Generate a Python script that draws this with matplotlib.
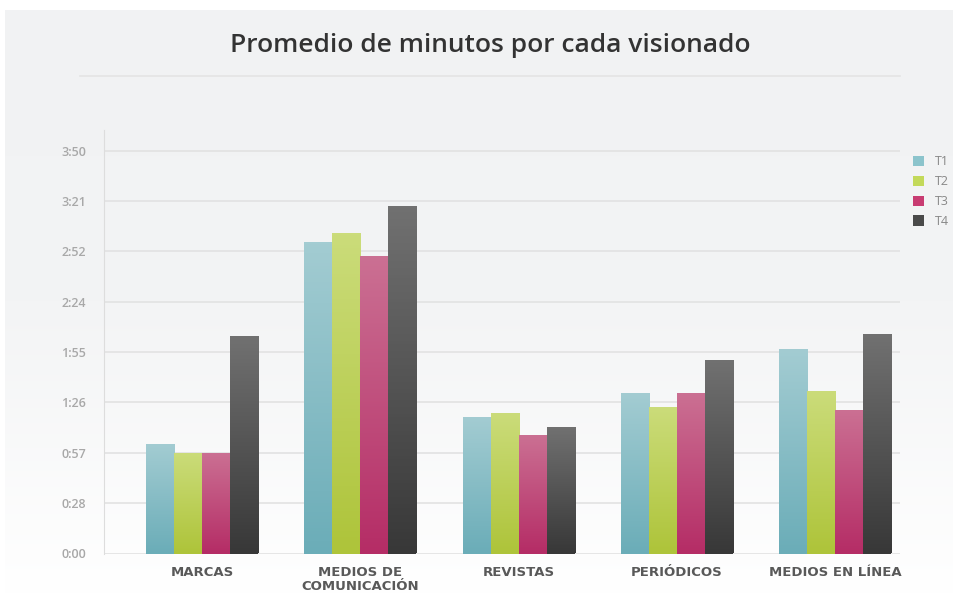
import numpy as np
import matplotlib
matplotlib.use("Agg")
import matplotlib.pyplot as plt
from matplotlib.colors import LinearSegmentedColormap
from matplotlib.patches import Patch

categories = ["MARCAS", "MEDIOS DE\nCOMUNICACIÓN", "REVISTAS", "PERIÓDICOS", "MEDIOS EN LÍNEA"]
series_names = ["T1", "T2", "T3", "T4"]
# values in seconds
t1 = [62.5, 178, 78, 91.5, 116.5]
t2 = [57.5, 183, 80.5, 83.5, 92.5]
t3 = [57.5, 170, 67.5, 91.5, 82]
t4 = [124, 198.5, 72.5, 110.5, 125.5]
tick_values = [0, 28.75, 57.5, 86.25, 115, 143.75, 172.5, 201.25, 230]
tick_labels = ["0:00", "0:28", "0:57", "1:26", "1:55", "2:24", "2:52", "3:21", "3:50"]
title = "Promedio de minutos por cada visionado"

series = [t1, t2, t3, t4]
top_colors = ["#a3ccd2", "#cbdc7a", "#cb7093", "#717171"]
bot_colors = ["#6badb8", "#aec43a", "#b52d66", "#383838"]
legend_colors = ["#8cc4cc", "#c3d95a", "#c83c72", "#4a4a4a"]

fig = plt.figure(figsize=(9.54, 5.94), dpi=100)
fig.patch.set_facecolor("white")

# background panel with vertical gradient
bg = fig.add_axes([5/954, 0, 1 - 5/954, 1 - 10/594], zorder=-10)
grad = np.linspace(0, 1, 256).reshape(-1, 1)
bg_cmap = LinearSegmentedColormap.from_list("bg", ["#f1f2f3", "#f3f4f5", "#ffffff"])
bg.imshow(grad, aspect="auto", cmap=bg_cmap, extent=[0, 1, 0, 1], origin="upper")
bg.set_axis_off()

# title and separator
fig.text(490/954, 1 - 45/594, title, ha="center", va="center", fontsize=19,
         family="Open Sans", fontweight="semibold", color="#333333")
fig.add_artist(plt.Line2D([80/954, 900/954], [1 - 76/594, 1 - 76/594],
                          color="#e4e4e4", lw=1.2, transform=fig.transFigure))

y0, ytop = 553.5, 130
ax = fig.add_axes([104/954, 1 - y0/594, (900 - 104)/954, (y0 - ytop)/594])
ax.set_facecolor("none")
x = np.arange(len(categories))
w = 28/158
offsets = (np.arange(4) - 1.5) * w

for i, (vals, c1, c2) in enumerate(zip(series, top_colors, bot_colors)):
    bars = ax.bar(x + offsets[i], vals, width=w, color=c2, zorder=3, linewidth=0)
    cmap = LinearSegmentedColormap.from_list(f"g{i}", [c2, c1])
    for b in bars:
        bx, by = b.get_x(), b.get_y()
        bw, bh = b.get_width(), b.get_height()
        im = ax.imshow(np.linspace(0, 1, 100).reshape(-1, 1), cmap=cmap, aspect="auto",
                       extent=[bx, bx + bw, by, by + bh], origin="lower", zorder=4)
        im.set_clip_path(b)

ax.set_xlim(-0.62, 4.41)
ax.set_ylim(0, 241.8)
ax.set_yticks(tick_values)
ax.set_yticklabels(tick_labels)
ax.set_xticks(x)
ax.set_xticklabels(categories, fontsize=9.5, fontweight="bold", color="#595959",
                   family="DejaVu Sans", linespacing=1.15)
for lbl in ax.get_yticklabels():
    lbl.set_color("#a8a8a8")
    lbl.set_fontsize(9)
    lbl.set_family("Open Sans")
    lbl.set_fontweight("semibold")
ax.tick_params(axis="y", length=0, pad=13)
ax.tick_params(axis="x", length=0, pad=9)
ax.yaxis.grid(True, color="#e2e2e2", lw=1.2, zorder=0)
ax.set_axisbelow(True)
for s in ["top", "right", "bottom"]:
    ax.spines[s].set_visible(False)
ax.spines["left"].set_color("#dddddd")

handles = [Patch(facecolor=c, edgecolor="none") for c in legend_colors]
fig.legend(handles, series_names, loc="upper left", bbox_to_anchor=(902/954, 1 - 144/594),
           frameon=False, handlelength=0.9, handleheight=0.9,
           handletextpad=0.8, labelspacing=0.55, labelcolor="#888888",
           prop={"family": "Open Sans", "size": 9})

fig.savefig("out.png", dpi=100)
